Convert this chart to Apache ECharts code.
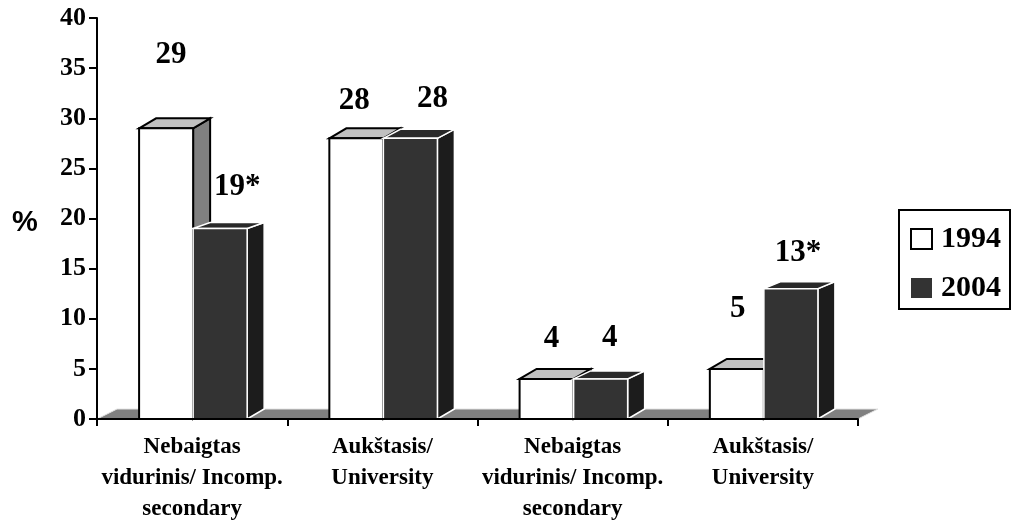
<!DOCTYPE html>
<html><head><meta charset="utf-8">
<style>html,body{margin:0;padding:0;background:#fff}#c{width:1011px;height:521px}</style>
<script src="https://cdn.jsdelivr.net/npm/echarts@6/dist/echarts.min.js"></script>
</head><body><div id="c"></div>
<script>
const categories = ["Nebaigtas\nvidurinis/ Incomp.\nsecondary","Aukštasis/\nUniversity","Nebaigtas\nvidurinis/ Incomp.\nsecondary","Aukštasis/\nUniversity"];
const values1994 = [29,28,4,5];
const values2004 = [19,28,4,13];
const labels1994 = ["29","28","4","5"];
const labels2004 = ["19*","28","4","13*"];
const labelShift1994 = [[5,-73],[-2,-37],[5,-40],[1,-60]];
const labelShift2004 = [[17,-42],[22,-39],[9,-41],[7,-36]];
const topRise1994 = [10,10,10,10];
const topRise2004 = [6,9,8,7];
const DX = 17, DY = 10, BAR = 0.284, NUDGE = 1;
const SERIF = '"Liberation Serif","Times New Roman",serif';

function barRenderer(dir, front, top, side, stroke, sw, labels, shifts, rise){
  return function(params, api){
    const i = api.value(0), v = api.value(1);
    const p = api.coord([i, v]), b = api.coord([i, 0]);
    const w = api.size([1,0])[0]*BAR;
    const x0 = (dir<0 ? p[0]-w : p[0])+NUDGE, x1 = x0+w, yT = p[1], yB = b[1], r = rise[i];
    const st = {stroke, lineWidth: sw, lineJoin:'miter'};
    return {type:'group', children:[
      {type:'polygon', shape:{points:[[x1,yB],[x1+DX,yB-DY],[x1+DX,yT-r],[x1,yT]]}, style:{fill:side, ...st}},
      {type:'polygon', shape:{points:[[x0,yT],[x0+DX,yT-r],[x1+DX,yT-r],[x1,yT]]}, style:{fill:top, ...st}},
      {type:'rect', shape:{x:x0,y:yT,width:w,height:yB-yT}, style:{fill:front, ...st}},
      {type:'text', z2:50, style:{text:labels[i], x:(x0+x1)/2+shifts[i][0], y:yT+shifts[i][1], align:'center', verticalAlign:'middle',
        font:'bold 31px '+SERIF, fill:'#000'}}
    ]};
  };
}
const chart = echarts.init(document.getElementById('c'));
chart.setOption({
  animation:false, backgroundColor:'#fff',
  grid:{left:97, top:18, width:761, height:401, outerBoundsMode:'none'},
  graphic:[{type:'text', left:12, top:208, style:{text:'%', font:'bold 29px "Liberation Sans",Arial,sans-serif', fill:'#000'}}],
  legend:{data:[{name:'1994',icon:'rect',itemStyle:{color:'#fff',borderColor:'#000',borderWidth:2}},{name:'2004',icon:'rect',itemStyle:{color:'#333',borderWidth:0}}],
    orient:'vertical', left:899, top:210, padding:[14,9,6,11], itemGap:19, itemWidth:21, itemHeight:20,
    borderColor:'#000', borderWidth:2, selectedMode:false,
    textStyle:{fontFamily:SERIF, fontWeight:'bold', fontSize:30, color:'#000', padding:[0,0,0,4]}},
  xAxis:{type:'category', data:categories, z:5,
    axisLine:{lineStyle:{color:'#000',width:2}}, axisTick:{show:true, length:7, lineStyle:{color:'#000',width:2}},
    axisLabel:{interval:0, margin:13, lineHeight:31, fontFamily:SERIF, fontWeight:'bold', fontSize:23, color:'#000'}},
  yAxis:{type:'value', min:0, max:40, interval:5, splitLine:{show:false}, z:5,
    axisLine:{show:true, lineStyle:{color:'#000',width:2}}, axisTick:{show:true, length:8, lineStyle:{color:'#000',width:2}},
    axisLabel:{margin:11, fontFamily:SERIF, fontWeight:'bold', fontSize:26, color:'#000', padding:[3,0,0,0]}},
  series:[
    {type:'custom', silent:true, z:1, data:[[0,0]], encode:{x:0,y:1},
     renderItem(params, api){
       const c = params.coordSys; const y=c.y+c.height, x=c.x;
       return {type:'polygon', shape:{points:[[x,y],[x+20,y-DY],[x+c.width+20,y-DY],[x+c.width,y]]},
         style:{fill:'#808080', stroke:'#e4e4e4', lineWidth:1}};
     }},
    {type:'custom', name:'1994', z:2, encode:{x:0,y:1}, itemStyle:{color:'#fff'}, data:values1994.map((v,i)=>[i,v]),
     renderItem:barRenderer(-1,'#fff','#c0c0c0','#808080','#000',2,labels1994,labelShift1994,topRise1994)},
    {type:'custom', name:'2004', z:3, encode:{x:0,y:1}, itemStyle:{color:'#333'}, data:values2004.map((v,i)=>[i,v]),
     renderItem:barRenderer(1,'#333','#292929','#1c1c1c','#fff',1.5,labels2004,labelShift2004,topRise2004)}
  ]
});
</script></body></html>
